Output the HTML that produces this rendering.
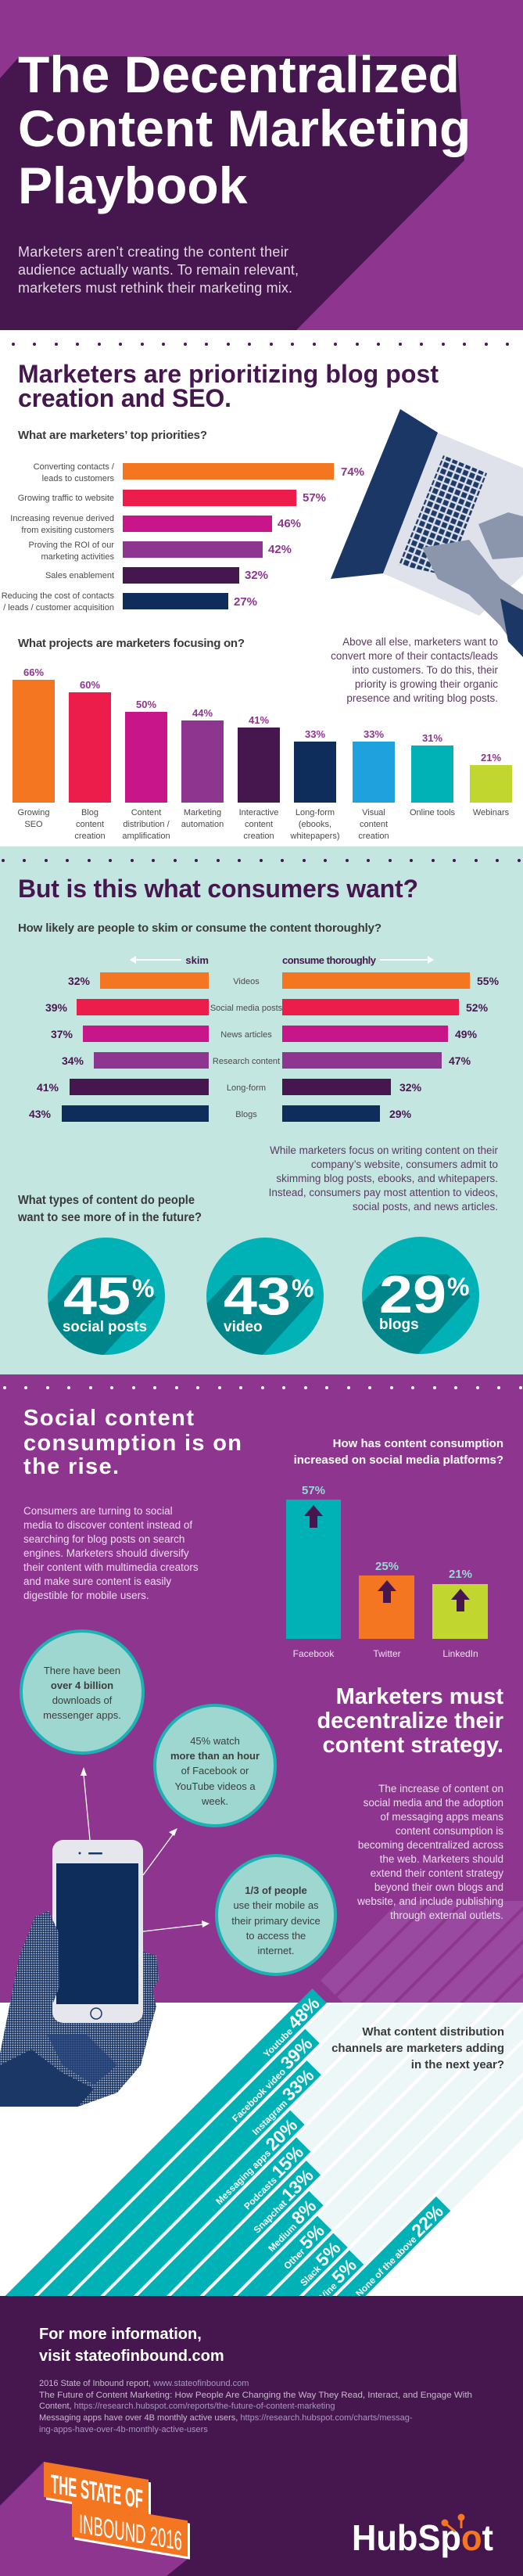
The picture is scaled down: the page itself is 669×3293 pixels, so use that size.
<!DOCTYPE html>
<html><head><meta charset="utf-8"><style>
html,body{margin:0;padding:0;background:#fff;width:669px;height:3293px;overflow:hidden;}
svg{display:block;}
text{font-family:"Liberation Sans",sans-serif;}
</style></head><body>
<svg width="669" height="3293" viewBox="0 0 669 3293" xmlns="http://www.w3.org/2000/svg" overflow="hidden">
<defs>
<clipPath id="c1"><circle cx="136" cy="1657" r="75"/></clipPath>
<clipPath id="c2"><circle cx="339" cy="1657" r="75"/></clipPath>
<clipPath id="c3"><circle cx="538" cy="1656" r="75"/></clipPath>
<clipPath id="barclip"><rect x="0" y="2538" width="669" height="397"/></clipPath>
<clipPath id="trackclip"><rect x="0" y="2560" width="669" height="375"/></clipPath>
<clipPath id="ptrackclip"><rect x="0" y="2430" width="669" height="130"/></clipPath>
<pattern id="keys" width="9" height="9" patternUnits="userSpaceOnUse" patternTransform="rotate(22)">
<rect width="9" height="9" fill="#dfe2ea"/><rect x="1.2" y="1.2" width="6.6" height="6.6" fill="#1d3a6a"/></pattern>
<pattern id="dots" width="3" height="3" patternUnits="userSpaceOnUse"><rect width="3" height="3" fill="#1b3766"/><circle cx="1.5" cy="1.5" r="0.9" fill="#c5cad6"/></pattern>
</defs>

<!-- HEADER -->
<rect x="0" y="0" width="669" height="422" fill="#8e3590"/>
<polygon points="0,100 25,72 585,72 594,205 379,422 0,422" fill="#46174e"/>
<g fill="#fff" font-weight="bold" font-size="66">
<text x="23" y="118">The Decentralized</text>
<text x="23" y="187">Content Marketing</text>
<text x="23" y="260">Playbook</text>
</g>
<g fill="#e4d8e6" font-size="18">
<text x="23" y="328" textLength="346">Marketers aren’t creating the content their</text>
<text x="23" y="351" textLength="359">audience actually wants. To remain relevant,</text>
<text x="23" y="374" textLength="351">marketers must rethink their marketing mix.</text>
</g>

<!-- SECTION 2 (white) -->
<g fill="#46174e">
<circle cx="17" cy="440" r="2"/><circle cx="44" cy="440" r="2"/><circle cx="72" cy="440" r="2"/><circle cx="99" cy="440" r="2"/><circle cx="127" cy="440" r="2"/><circle cx="154" cy="440" r="2"/><circle cx="182" cy="440" r="2"/><circle cx="209" cy="440" r="2"/><circle cx="237" cy="440" r="2"/><circle cx="264" cy="440" r="2"/><circle cx="292" cy="440" r="2"/><circle cx="319" cy="440" r="2"/><circle cx="347" cy="440" r="2"/><circle cx="374" cy="440" r="2"/><circle cx="402" cy="440" r="2"/><circle cx="429" cy="440" r="2"/><circle cx="457" cy="440" r="2"/><circle cx="484" cy="440" r="2"/><circle cx="512" cy="440" r="2"/><circle cx="539" cy="440" r="2"/><circle cx="567" cy="440" r="2"/><circle cx="594" cy="440" r="2"/><circle cx="622" cy="440" r="2"/><circle cx="649" cy="440" r="2"/>
</g>
<g fill="#46174e" font-weight="bold" font-size="32">
<text x="23" y="489" textLength="538">Marketers are prioritizing blog post</text>
<text x="23" y="520" textLength="273">creation and SEO.</text>
</g>
<text x="23" y="561" fill="#3a3a3a" font-weight="bold" font-size="15" textLength="242">What are marketers’ top priorities?</text>

<!-- laptop -->
<polygon points="559,553 669,598 669,735 613,787 490,733" fill="#dfe2ea"/>
<polygon points="512,523 560,553 490,733 423,740" fill="#1b3766"/>
<polygon points="567,582 623,605 572,736 510,722" fill="url(#keys)"/>
<polygon points="540,700 600,690 640,740 669,760 669,840 640,800 600,760 560,740" fill="#8b96ad"/>
<polygon points="612,670 650,655 669,660 669,712 630,715" fill="#8b96ad"/>
<polygon points="640,765 669,780 669,840 650,820" fill="#1b3766"/>

<!-- horizontal bars -->
<g>
<rect x="157" y="592" width="270" height="21" fill="#f47621"/>
<rect x="157" y="626" width="222" height="21" fill="#ec1c4b"/>
<rect x="157" y="659" width="191" height="21" fill="#c8168a"/>
<rect x="157" y="692" width="179" height="21" fill="#8e3590"/>
<rect x="157" y="725" width="149" height="21" fill="#46174e"/>
<rect x="157" y="758" width="135" height="21" fill="#0f2d5a"/>
</g>
<g fill="#8e3590" font-weight="bold" font-size="15">
<text x="436" y="608">74%</text><text x="387" y="641">57%</text><text x="355" y="674">46%</text>
<text x="343" y="707">42%</text><text x="313" y="740">32%</text><text x="299" y="774">27%</text>
</g>
<g fill="#4a4a4a" font-size="11" text-anchor="end">
<text x="146" y="600">Converting contacts /</text><text x="146" y="615">leads to customers</text>
<text x="146" y="640">Growing traffic to website</text>
<text x="146" y="666">Increasing revenue derived</text><text x="146" y="681">from exisiting customers</text>
<text x="146" y="700">Proving the ROI of our</text><text x="146" y="715">marketing activities</text>
<text x="146" y="739">Sales enablement</text>
<text x="146" y="765">Reducing the cost of contacts</text><text x="146" y="780">/ leads / customer acquisition</text>
</g>

<text x="23" y="827" fill="#3a3a3a" font-weight="bold" font-size="15" textLength="290">What projects are marketers focusing on?</text>
<g fill="#5b3a60" font-size="13.5" text-anchor="end">
<text x="637" y="825">Above all else, marketers want to</text>
<text x="637" y="843">convert more of their contacts/leads</text>
<text x="637" y="861">into customers. To do this, their</text>
<text x="637" y="879">priority is growing their organic</text>
<text x="637" y="897">presence and writing blog posts.</text>
</g>

<!-- vertical bars -->
<g>
<rect x="16" y="869" width="54" height="157" fill="#f47621"/>
<rect x="88" y="885" width="54" height="141" fill="#ec1c4b"/>
<rect x="160" y="910" width="54" height="116" fill="#c8168a"/>
<rect x="232" y="921" width="54" height="105" fill="#8e3590"/>
<rect x="304" y="930" width="54" height="96" fill="#46174e"/>
<rect x="376" y="948" width="54" height="78" fill="#0f2d5a"/>
<rect x="451" y="948" width="54" height="78" fill="#1ea1dc"/>
<rect x="526" y="953" width="54" height="73" fill="#00b1b5"/>
<rect x="601" y="978" width="54" height="48" fill="#c1d72f"/>
</g>
<g fill="#8e3590" font-weight="bold" font-size="13" text-anchor="middle">
<text x="43" y="864">66%</text><text x="115" y="880">60%</text><text x="187" y="905">50%</text>
<text x="259" y="916">44%</text><text x="331" y="925">41%</text><text x="403" y="943">33%</text>
<text x="478" y="943">33%</text><text x="553" y="948">31%</text><text x="628" y="973">21%</text>
</g>
<g fill="#4a4a4a" font-size="11" text-anchor="middle">
<text x="43" y="1042">Growing</text><text x="43" y="1057">SEO</text>
<text x="115" y="1042">Blog</text><text x="115" y="1057">content</text><text x="115" y="1072">creation</text>
<text x="187" y="1042">Content</text><text x="187" y="1057">distribution /</text><text x="187" y="1072">amplification</text>
<text x="259" y="1042">Marketing</text><text x="259" y="1057">automation</text>
<text x="331" y="1042">Interactive</text><text x="331" y="1057">content</text><text x="331" y="1072">creation</text>
<text x="403" y="1042">Long-form</text><text x="403" y="1057">(ebooks,</text><text x="403" y="1072">whitepapers)</text>
<text x="478" y="1042">Visual</text><text x="478" y="1057">content</text><text x="478" y="1072">creation</text>
<text x="553" y="1042">Online tools</text>
<text x="628" y="1042">Webinars</text>
</g>

<!-- SECTION 3 (mint) -->
<rect x="0" y="1082" width="669" height="675" fill="#c3e6e1"/>
<g fill="#46174e">
<circle cx="4" cy="1100" r="2"/><circle cx="31" cy="1100" r="2"/><circle cx="59" cy="1100" r="2"/><circle cx="86" cy="1100" r="2"/><circle cx="114" cy="1100" r="2"/><circle cx="141" cy="1100" r="2"/><circle cx="169" cy="1100" r="2"/><circle cx="196" cy="1100" r="2"/><circle cx="224" cy="1100" r="2"/><circle cx="251" cy="1100" r="2"/><circle cx="279" cy="1100" r="2"/><circle cx="306" cy="1100" r="2"/><circle cx="334" cy="1100" r="2"/><circle cx="361" cy="1100" r="2"/><circle cx="389" cy="1100" r="2"/><circle cx="416" cy="1100" r="2"/><circle cx="444" cy="1100" r="2"/><circle cx="471" cy="1100" r="2"/><circle cx="499" cy="1100" r="2"/><circle cx="526" cy="1100" r="2"/><circle cx="554" cy="1100" r="2"/><circle cx="581" cy="1100" r="2"/><circle cx="609" cy="1100" r="2"/><circle cx="636" cy="1100" r="2"/><circle cx="664" cy="1100" r="2"/>
</g>
<text x="23" y="1147" fill="#46174e" font-weight="bold" font-size="32" textLength="512">But is this what consumers want?</text>
<text x="23" y="1191" fill="#3a3a3a" font-weight="bold" font-size="15" textLength="465">How likely are people to skim or consume the content thoroughly?</text>
<g stroke="#fff" stroke-width="2" fill="#fff">
<line x1="172" y1="1227" x2="232" y2="1227"/><polygon points="166,1227 174,1222 174,1232" stroke="none"/>
<line x1="486" y1="1227" x2="548" y2="1227"/><polygon points="555,1227 547,1222 547,1232" stroke="none"/>
</g>
<text x="267" y="1232" fill="#46174e" font-weight="bold" font-size="13" text-anchor="end">skim</text>
<text x="361" y="1232" fill="#46174e" font-weight="bold" font-size="13" textLength="120">consume thoroughly</text>
<g>
<rect x="128" y="1243" width="139" height="21" fill="#f47621"/><rect x="361" y="1243" width="240" height="21" fill="#f47621"/>
<rect x="98" y="1277" width="169" height="21" fill="#ec1c4b"/><rect x="361" y="1277" width="226" height="21" fill="#ec1c4b"/>
<rect x="106" y="1311" width="161" height="21" fill="#c8168a"/><rect x="361" y="1311" width="212" height="21" fill="#c8168a"/>
<rect x="120" y="1345" width="147" height="21" fill="#8e3590"/><rect x="361" y="1345" width="204" height="21" fill="#8e3590"/>
<rect x="89" y="1379" width="178" height="21" fill="#46174e"/><rect x="361" y="1379" width="139" height="21" fill="#46174e"/>
<rect x="79" y="1413" width="188" height="21" fill="#0f2d5a"/><rect x="361" y="1413" width="125" height="21" fill="#0f2d5a"/>
</g>
<g fill="#46174e" font-weight="bold" font-size="14">
<g text-anchor="end">
<text x="115" y="1259">32%</text><text x="86" y="1293">39%</text><text x="93" y="1327">37%</text>
<text x="107" y="1361">34%</text><text x="75" y="1395">41%</text><text x="65" y="1429">43%</text>
</g>
<text x="610" y="1259">55%</text><text x="596" y="1293">52%</text><text x="582" y="1327">49%</text>
<text x="574" y="1361">47%</text><text x="511" y="1395">32%</text><text x="498" y="1429">29%</text>
</g>
<g fill="#4a4a4a" font-size="11" text-anchor="middle">
<text x="315" y="1258">Videos</text><text x="315" y="1292">Social media posts</text><text x="315" y="1326">News articles</text>
<text x="315" y="1360">Research content</text><text x="315" y="1394">Long-form</text><text x="315" y="1428">Blogs</text>
</g>
<g fill="#5b3a60" font-size="13.5" text-anchor="end">
<text x="637" y="1475">While marketers focus on writing content on their</text>
<text x="637" y="1493">company’s website, consumers admit to</text>
<text x="637" y="1511">skimming blog posts, ebooks, and whitepapers.</text>
<text x="637" y="1529">Instead, consumers pay most attention to videos,</text>
<text x="637" y="1547">social posts, and news articles.</text>
</g>
<g fill="#3a3a3a" font-weight="bold" font-size="16">
<text x="23" y="1539" textLength="226" lengthAdjust="spacingAndGlyphs">What types of content do people</text>
<text x="23" y="1561" textLength="235" lengthAdjust="spacingAndGlyphs">want to see more of in the future?</text>
</g>

<!-- circles -->
<circle cx="136" cy="1657" r="75" fill="#00b1b5"/>
<polygon clip-path="url(#c1)" points="56,1672 96,1630 170,1630 200,1658 130,1735 70,1735" fill="#00868a"/>
<circle cx="339" cy="1657" r="75" fill="#00b1b5"/>
<polygon clip-path="url(#c2)" points="259,1672 299,1630 373,1630 403,1658 333,1735 273,1735" fill="#00868a"/>
<circle cx="538" cy="1656" r="75" fill="#00b1b5"/>
<polygon clip-path="url(#c3)" points="458,1671 498,1629 572,1629 602,1657 532,1734 472,1734" fill="#00868a"/>
<g fill="#fff" font-weight="bold">
<text x="81" y="1680" font-size="68" textLength="86" lengthAdjust="spacingAndGlyphs">45</text><text x="169" y="1658" font-size="32">%</text>
<text x="80" y="1702" font-size="19" textLength="108" lengthAdjust="spacingAndGlyphs">social posts</text>
<text x="286" y="1680" font-size="68" textLength="86" lengthAdjust="spacingAndGlyphs">43</text><text x="373" y="1658" font-size="32">%</text>
<text x="286" y="1702" font-size="19">video</text>
<text x="485" y="1678" font-size="68" textLength="86" lengthAdjust="spacingAndGlyphs">29</text><text x="572" y="1656" font-size="32">%</text>
<text x="485" y="1699" font-size="19">blogs</text>
</g>

<!-- SECTION 4 (purple) -->
<rect x="0" y="1757" width="669" height="803" fill="#8e3590"/>
<g fill="#fff">
<circle cx="6" cy="1774" r="2"/><circle cx="33" cy="1774" r="2"/><circle cx="61" cy="1774" r="2"/><circle cx="88" cy="1774" r="2"/><circle cx="116" cy="1774" r="2"/><circle cx="143" cy="1774" r="2"/><circle cx="171" cy="1774" r="2"/><circle cx="198" cy="1774" r="2"/><circle cx="226" cy="1774" r="2"/><circle cx="253" cy="1774" r="2"/><circle cx="281" cy="1774" r="2"/><circle cx="308" cy="1774" r="2"/><circle cx="336" cy="1774" r="2"/><circle cx="363" cy="1774" r="2"/><circle cx="391" cy="1774" r="2"/><circle cx="418" cy="1774" r="2"/><circle cx="446" cy="1774" r="2"/><circle cx="473" cy="1774" r="2"/><circle cx="501" cy="1774" r="2"/><circle cx="528" cy="1774" r="2"/><circle cx="556" cy="1774" r="2"/><circle cx="583" cy="1774" r="2"/><circle cx="611" cy="1774" r="2"/><circle cx="638" cy="1774" r="2"/><circle cx="666" cy="1774" r="2"/>
</g>
<g fill="#fff" font-weight="bold" font-size="29">
<text x="30" y="1822" textLength="218">Social content</text>
<text x="30" y="1854" textLength="279">consumption is on</text>
<text x="30" y="1884" textLength="122">the rise.</text>
</g>
<g fill="#eedcf0" font-size="13.5">
<text x="30" y="1936">Consumers are turning to social</text>
<text x="30" y="1954">media to discover content instead of</text>
<text x="30" y="1972">searching for blog posts on search</text>
<text x="30" y="1990">engines. Marketers should diversify</text>
<text x="30" y="2008">their content with multimedia creators</text>
<text x="30" y="2026">and make sure content is easily</text>
<text x="30" y="2044">digestible for mobile users.</text>
</g>
<g fill="#fff" font-weight="bold" font-size="15" text-anchor="end">
<text x="644" y="1850">How has content consumption</text>
<text x="644" y="1871">increased on social media platforms?</text>
</g>
<rect x="366" y="1917" width="70" height="178" fill="#00b1b5"/>
<rect x="459" y="2014" width="71" height="81" fill="#f47621"/>
<rect x="553" y="2025" width="71" height="70" fill="#c1d72f"/>
<g fill="#46174e">
<polygon points="389,1938 401,1924 413,1938"/><rect x="396" y="1937" width="10" height="16"/>
<polygon points="483,2034 495,2020 507,2034"/><rect x="490" y="2033" width="10" height="16"/>
<polygon points="577,2045 589,2031 601,2045"/><rect x="584" y="2044" width="10" height="16"/>
</g>
<g fill="#94dbd2" font-weight="bold" font-size="15" text-anchor="middle">
<text x="401" y="1910">57%</text><text x="495" y="2007">25%</text><text x="589" y="2017">21%</text>
</g>
<g fill="#f0e2f1" font-size="12" text-anchor="middle">
<text x="401" y="2118">Facebook</text><text x="495" y="2118">Twitter</text><text x="589" y="2118">LinkedIn</text>
</g>

<!-- purple stripes -->
<g clip-path="url(#ptrackclip)" fill="#994aa0">
<g transform="rotate(-45)">
<rect x="-1500" y="2080" width="2400" height="26"/><rect x="-1500" y="2110" width="2400" height="26"/><rect x="-1500" y="2140" width="2400" height="26"/><rect x="-1500" y="2170" width="2400" height="26"/><rect x="-1500" y="2200" width="2400" height="26"/><rect x="-1500" y="2230" width="2400" height="26"/><rect x="-1500" y="2260" width="2400" height="26"/><rect x="-1500" y="2290" width="2400" height="26"/><rect x="-1500" y="2320" width="2400" height="26"/>
</g></g>

<text x="644" y="2178" fill="#fff" font-weight="bold" font-size="29" text-anchor="end">Marketers must</text>
<text x="644" y="2209" fill="#fff" font-weight="bold" font-size="29" text-anchor="end">decentralize their</text>
<text x="644" y="2240" fill="#fff" font-weight="bold" font-size="29" text-anchor="end">content strategy.</text>
<g fill="#eedcf0" font-size="13.5" text-anchor="end">
<text x="644" y="2291">The increase of content on</text>
<text x="644" y="2309">social media and the adoption</text>
<text x="644" y="2327">of messaging apps means</text>
<text x="644" y="2345">content consumption is</text>
<text x="644" y="2363">becoming decentralized across</text>
<text x="644" y="2381">the web. Marketers should</text>
<text x="644" y="2399">extend their content strategy</text>
<text x="644" y="2417">beyond their own blogs and</text>
<text x="644" y="2435">website, and include publishing</text>
<text x="644" y="2453">through external outlets.</text>
</g>

<!-- bubbles -->
<g fill="#9dd7cf" stroke="#1ab2b2" stroke-width="4">
<circle cx="105" cy="2163" r="78"/><circle cx="275" cy="2257" r="77"/><circle cx="353" cy="2448" r="76"/>
</g>
<g fill="#3d3d3d" font-size="13" text-anchor="middle">
<text x="105" y="2140">There have been</text><text x="105" y="2159" font-weight="bold">over 4 billion</text>
<text x="105" y="2178">downloads of</text><text x="105" y="2197">messenger apps.</text>
<text x="275" y="2230">45% watch</text><text x="275" y="2249" font-weight="bold">more than an hour</text>
<text x="275" y="2268">of Facebook or</text><text x="275" y="2288">YouTube videos a</text><text x="275" y="2307">week.</text>
<text x="353" y="2421" font-weight="bold">1/3 of people</text><text x="353" y="2440">use their mobile as</text>
<text x="353" y="2460">their primary device</text><text x="353" y="2479">to access the</text><text x="353" y="2498">internet.</text>
</g>
<g stroke="#fff" stroke-width="1.3" fill="#fff">
<line x1="115" y1="2352" x2="107" y2="2268"/><polygon points="107,2259 103,2270 111,2270" stroke="none"/>
<line x1="183" y1="2397" x2="222" y2="2344"/><polygon points="227,2337 216,2342 223,2347" stroke="none"/>
<line x1="183" y1="2469" x2="260" y2="2460"/><polygon points="268,2459 258,2455 259,2464" stroke="none"/>
</g>

<!-- distribution chart -->
<g clip-path="url(#trackclip)" fill="#eef7f7">
<g transform="rotate(-45)">
<rect x="-3000" y="2080" width="4000" height="26"/><rect x="-3000" y="2110" width="4000" height="26"/><rect x="-3000" y="2140" width="4000" height="26"/><rect x="-3000" y="2170" width="4000" height="26"/><rect x="-3000" y="2200" width="4000" height="26"/><rect x="-3000" y="2230" width="4000" height="26"/><rect x="-3000" y="2260" width="4000" height="26"/><rect x="-3000" y="2290" width="4000" height="26"/><rect x="-3000" y="2320" width="4000" height="26"/><rect x="-3000" y="2350" width="4000" height="26"/><rect x="-3000" y="2380" width="4000" height="26"/>
</g></g>
<g clip-path="url(#barclip)">
<g transform="rotate(-45)">
<g fill="#00b1b5">
<rect x="-3000" y="2080" width="1485" height="26"/>
<rect x="-3000" y="2110" width="1442" height="26"/>
<rect x="-3000" y="2140" width="1415" height="26"/>
<rect x="-3000" y="2170" width="1355" height="26"/>
<rect x="-3000" y="2200" width="1336" height="26"/>
<rect x="-3000" y="2230" width="1324" height="26"/>
<rect x="-3000" y="2260" width="1299" height="26"/>
<rect x="-3000" y="2290" width="1284" height="26"/>
<rect x="-3000" y="2320" width="1283" height="26"/>
<rect x="-3000" y="2350" width="1282" height="26"/>
<rect x="-3000" y="2380" width="1409" height="26"/>
</g>
<g fill="#fff" font-weight="bold" text-anchor="end">
<text x="-1522" y="2102"><tspan font-size="12">Youtube </tspan><tspan font-size="23">48%</tspan></text>
<text x="-1565" y="2132"><tspan font-size="12">Facebook video </tspan><tspan font-size="23">39%</tspan></text>
<text x="-1592" y="2162"><tspan font-size="12">Instagram </tspan><tspan font-size="23">33%</tspan></text>
<text x="-1652" y="2192"><tspan font-size="12">Messaging apps </tspan><tspan font-size="23">20%</tspan></text>
<text x="-1671" y="2222"><tspan font-size="12">Podcasts </tspan><tspan font-size="23">15%</tspan></text>
<text x="-1683" y="2252"><tspan font-size="12">Snapchat </tspan><tspan font-size="23">13%</tspan></text>
<text x="-1708" y="2282"><tspan font-size="12">Medium </tspan><tspan font-size="23">8%</tspan></text>
<text x="-1723" y="2312"><tspan font-size="12">Other </tspan><tspan font-size="23">5%</tspan></text>
<text x="-1724" y="2342"><tspan font-size="12">Slack </tspan><tspan font-size="23">5%</tspan></text>
<text x="-1725" y="2372"><tspan font-size="12">Vine </tspan><tspan font-size="23">5%</tspan></text>
<text x="-1598" y="2402"><tspan font-size="12">None of the above </tspan><tspan font-size="23">22%</tspan></text>
</g>
</g></g>
<g fill="#3a3a3a" font-weight="bold" font-size="15" text-anchor="end">
<text x="645" y="2602">What content distribution</text>
<text x="645" y="2623">channels are marketers adding</text>
<text x="645" y="2644">in the next year?</text>
</g>

<!-- hand + phone -->
<polygon points="0,2625 25,2500 45,2450 62,2443 72,2470 72,2560 183,2560 183,2495 200,2500 203,2530 195,2545 200,2565 193,2590 180,2640 150,2675 100,2693 0,2693" fill="url(#dots)"/>
<polygon points="0,2640 40,2620 80,2650 120,2670 100,2693 0,2693" fill="#1b3766"/>
<polygon points="60,2600 110,2600 150,2640 120,2665 80,2640" fill="#24427a" opacity="0.8"/>
<rect x="67" y="2352" width="116" height="234" rx="14" fill="#e6e7ec"/>
<rect x="72" y="2382" width="105" height="180" fill="#0f2d5a"/>
<circle cx="123" cy="2574" r="7" fill="none" stroke="#1b3766" stroke-width="1.5"/>
<rect x="113" y="2368" width="18" height="2.5" rx="1" fill="#1b3766"/>
<circle cx="102" cy="2369" r="1.5" fill="#1b3766"/>
<polygon points="45,2450 62,2443 75,2470 76,2540 68,2560 50,2520" fill="url(#dots)"/>

<!-- FOOTER -->
<rect x="0" y="2935" width="669" height="358" fill="#46174e"/>
<g fill="#fff" font-weight="bold" font-size="20">
<text x="50" y="2990">For more information,</text>
<text x="50" y="3018">visit stateofinbound.com</text>
</g>
<g font-size="11" fill="#c9b9cd">
<text x="50" y="3050">2016 State of Inbound report, <tspan fill="#a898c0">www.stateofinbound.com</tspan></text>
<text x="50" y="3065" textLength="554" lengthAdjust="spacingAndGlyphs">The Future of Content Marketing: How People Are Changing the Way They Read, Interact, and Engage With</text>
<text x="50" y="3079">Content, <tspan fill="#a898c0">https://research.hubspot.com/reports/the-future-of-content-marketing</tspan></text>
<text x="50" y="3094">Messaging apps have over 4B monthly active users, <tspan fill="#a898c0">https://research.hubspot.com/charts/messag-</tspan></text>
<text x="50" y="3109" fill="#a898c0">ing-apps-have-over-4b-monthly-active-users</text>
</g>
<polygon points="56,3147 0,3203 0,3293 213,3293 244,3268 92,3243 92,3197 56,3192" fill="#8e3590"/>
<g transform="translate(56,3147) skewY(9.7)">
<rect x="3" y="3" width="134" height="45" fill="#fff"/>
<rect x="0" y="0" width="134" height="45" fill="#f47621"/>
<text x="9" y="38" fill="#fff" font-weight="bold" font-size="34" font-family="Liberation Sans Narrow, Liberation Sans, sans-serif" textLength="118" lengthAdjust="spacingAndGlyphs">THE STATE OF</text>
</g>
<g transform="translate(92,3197) skewY(9.7)">
<rect x="3" y="3" width="148" height="46" fill="#fff"/>
<rect x="0" y="0" width="148" height="46" fill="#f47621"/>
<text x="9" y="39" fill="#fff" font-size="34" font-family="Liberation Sans Narrow, Liberation Sans, sans-serif" textLength="132" lengthAdjust="spacingAndGlyphs">INBOUND 2016</text>
</g>
<text x="450" y="3260" fill="#fff" font-weight="bold" font-size="46" textLength="181" lengthAdjust="spacingAndGlyphs">HubSp<tspan fill="#f47621">o</tspan>t</text>
<g stroke="#f47621" stroke-width="3" fill="#f47621">
<line x1="590" y1="3232" x2="590" y2="3220"/><circle cx="590" cy="3218" r="3"/>
<line x1="582" y1="3236" x2="570" y2="3226"/><circle cx="569" cy="3225" r="3"/>
</g>
</svg>
</body></html>
